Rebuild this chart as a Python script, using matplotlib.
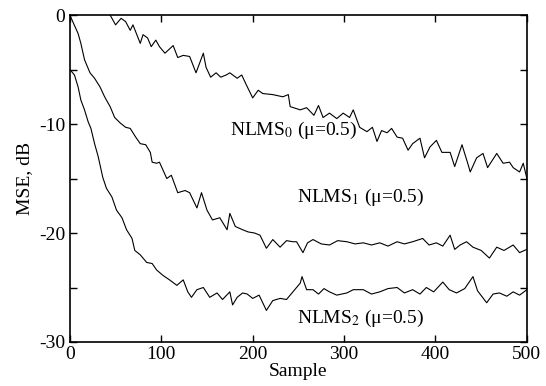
import matplotlib
matplotlib.use("Agg")
import matplotlib.pyplot as plt
from matplotlib.ticker import MultipleLocator

plt.rcParams['font.family'] = ['Liberation Serif', 'DejaVu Serif']
plt.rcParams['mathtext.fontset'] = 'stix'
plt.rcParams['axes.unicode_minus'] = False

# NLMS0 (mu=0.5)
x0 = [40, 44, 50, 56, 61, 66, 69, 77, 80, 85, 89, 94, 98, 104, 113, 118, 124, 131, 138, 142,
      146, 149, 154, 160, 165, 171, 175, 183, 188, 193, 200, 206, 211, 222, 233, 239, 241, 252,
      259, 267, 272, 277, 284, 292, 299, 306, 310, 317, 325, 331, 336, 341, 347, 352, 358, 364,
      370, 375, 383, 388, 394, 401, 407, 416, 421, 429, 436, 438, 445, 452, 457, 467, 474, 481,
      485, 492, 496, 500]
y0 = [0.3, 0.0, -0.9, -0.3, -0.6, -1.4, -0.9, -2.6, -1.8, -2.1, -2.9, -2.3, -2.9, -3.5, -2.8,
      -3.9, -3.7, -3.8, -5.3, -4.4, -3.5, -4.8, -5.7, -5.3, -5.7, -5.5, -5.3, -5.8, -5.5, -6.4,
      -7.6, -6.9, -7.2, -7.3, -7.5, -7.3, -8.4, -8.7, -8.5, -9.2, -8.3, -9.4, -9.0, -9.5, -9.0,
      -9.4, -8.7, -10.3, -10.7, -10.3, -11.6, -10.6, -10.8, -10.4, -11.2, -11.3, -12.4, -11.8,
      -11.3, -13.1, -12.1, -11.5, -12.6, -12.6, -13.9, -11.9, -13.8, -14.4, -13.1, -12.7, -14.0,
      -12.7, -13.6, -13.5, -14.0, -14.4, -13.6, -15.0]

# NLMS1 (mu=0.5)
x1 = [0, 1, 9, 12, 16, 22, 27, 33, 38, 44, 49, 55, 61, 66, 72, 77, 83, 88, 90, 95, 98, 106,
      111, 118, 126, 131, 139, 144, 150, 156, 164, 172, 175, 181, 189, 195, 202, 208, 215, 222,
      230, 237, 244, 248, 255, 260, 266, 275, 284, 293, 303, 312, 321, 330, 339, 348, 358, 366,
      375, 386, 393, 401, 408, 416, 421, 427, 434, 441, 450, 459, 467, 475, 485, 492, 500]
y1 = [0.0, -0.2, -1.7, -2.6, -4.1, -5.3, -5.8, -6.6, -7.5, -8.4, -9.4, -9.9, -10.3, -10.4,
      -11.2, -11.8, -11.9, -12.6, -13.5, -13.6, -13.5, -15.0, -14.7, -16.3, -16.1, -16.3, -17.7,
      -16.3, -17.9, -18.8, -18.6, -19.7, -18.2, -19.4, -19.7, -19.9, -20.0, -20.2, -21.4, -20.6,
      -21.3, -20.7, -20.8, -20.8, -21.8, -20.9, -20.6, -21.0, -21.1, -20.7, -20.8, -21.0, -20.9,
      -21.1, -20.9, -21.2, -20.8, -21.0, -20.8, -20.5, -21.1, -20.9, -21.2, -20.2, -21.5, -21.1,
      -20.8, -21.3, -21.6, -22.3, -21.3, -21.6, -21.1, -21.8, -21.5]

# NLMS2 (mu=0.5)
x2 = [0, 2, 5, 9, 12, 16, 20, 23, 27, 31, 36, 40, 46, 51, 57, 62, 68, 71, 77, 84, 90, 95, 102,
      109, 117, 124, 129, 133, 139, 146, 153, 161, 167, 175, 178, 183, 189, 194, 200, 207, 215,
      222, 230, 237, 241, 248, 252, 254, 259, 266, 272, 278, 284, 292, 303, 310, 321, 330, 339,
      348, 358, 366, 375, 383, 390, 398, 408, 415, 423, 432, 441, 446, 456, 463, 470, 478, 485,
      492, 500]
y2 = [-5.0, -5.2, -5.5, -6.6, -7.8, -8.7, -9.8, -10.4, -11.8, -13.0, -14.9, -15.9, -16.7,
      -17.9, -18.6, -19.7, -20.5, -21.6, -22.0, -22.7, -22.8, -23.4, -23.9, -24.3, -24.8, -24.3,
      -25.4, -25.9, -25.2, -25.0, -25.9, -25.5, -26.1, -25.4, -26.6, -25.9, -25.5, -25.6, -26.0,
      -25.7, -27.1, -26.2, -26.0, -26.1, -25.7, -25.0, -24.6, -24.0, -25.2, -25.2, -25.6, -25.1,
      -25.4, -25.7, -25.5, -25.2, -25.2, -25.6, -25.4, -25.1, -25.0, -25.5, -25.2, -25.6, -25.0,
      -25.4, -24.5, -25.2, -25.5, -25.1, -24.0, -25.3, -26.4, -25.6, -25.5, -25.8, -25.4, -25.7,
      -25.2]

labels = ["NLMS$_0$ (\u03bc=0.5)", "NLMS$_1$ (\u03bc=0.5)", "NLMS$_2$ (\u03bc=0.5)"]
label_pos = [(175, -10.6), (248, -16.7), (248, -27.8)]

xticks = [0, 100, 200, 300, 400, 500]
yticks = [0, -10, -20, -30]

fig = plt.figure(figsize=(5.46, 3.86), dpi=100)
ax = fig.add_axes([0.128, 0.114, 0.837, 0.847])

for xs, ys in [(x0, y0), (x1, y1), (x2, y2)]:
    ax.plot(xs, ys, color='black', lw=0.8)

for (tx, ty), lab in zip(label_pos, labels):
    ax.text(tx, ty, lab, fontsize=14, ha='left', va='center')

ax.set_xlim(0, 500)
ax.set_ylim(-30, 0)
ax.set_xticks(xticks)
ax.set_yticks(yticks)
ax.yaxis.set_minor_locator(MultipleLocator(5))
ax.tick_params(direction='in', which='both', top=True, right=True, labelsize=14,
               length=5, width=1)
ax.tick_params(axis='x', pad=3)
for s in ax.spines.values():
    s.set_linewidth(1.2)
ax.set_xlabel("Sample", fontsize=14, labelpad=0)
ax.set_ylabel("MSE, dB", fontsize=14, labelpad=4)

fig.savefig("out.png", dpi=100)
